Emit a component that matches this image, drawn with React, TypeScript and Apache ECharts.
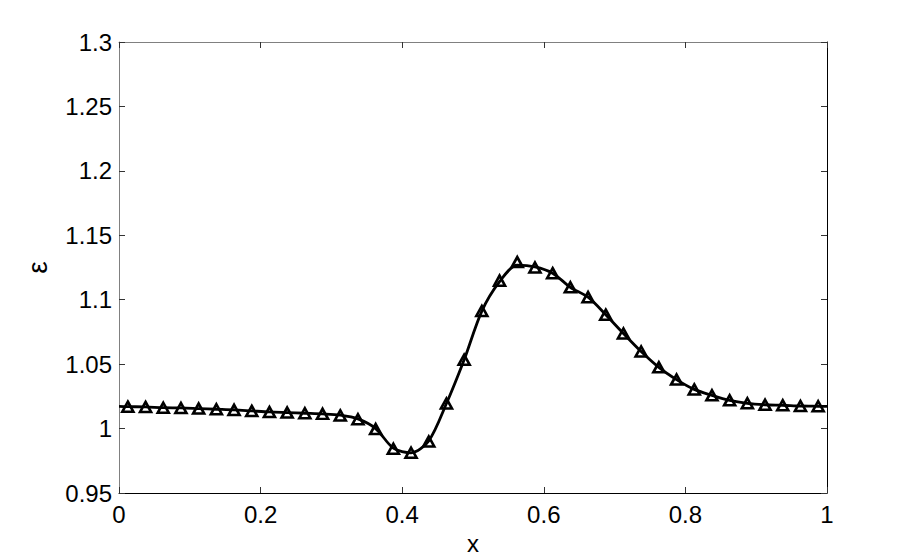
import React, { useEffect, useRef } from "react";
import * as echarts from "echarts";

const markerX = [
  0.0125, 0.0375, 0.0625, 0.0875, 0.1125, 0.1375, 0.1625, 0.1875, 0.2125, 0.2375,
  0.2625, 0.2875, 0.3125, 0.3375, 0.3625, 0.3875, 0.4125, 0.4375, 0.4625, 0.4875,
  0.5125, 0.5375, 0.5625, 0.5875, 0.6125, 0.6375, 0.6625, 0.6875, 0.7125, 0.7375,
  0.7625, 0.7875, 0.8125, 0.8375, 0.8625, 0.8875, 0.9125, 0.9375, 0.9625, 0.9875,
];
const markerY = [
  1.017, 1.0168, 1.0162, 1.016, 1.0155, 1.015, 1.0145, 1.0137, 1.0129, 1.0124,
  1.0119, 1.0114, 1.0102, 1.0072, 0.9996, 0.9843, 0.9812, 0.99, 1.0195, 1.0534,
  1.0912, 1.1148, 1.1292, 1.125, 1.1206, 1.1096, 1.102, 1.0884, 1.0738, 1.0598,
  1.0475, 1.038, 1.0304, 1.0258, 1.0219, 1.0196, 1.0185, 1.0181, 1.0175, 1.0173,
];
const lineX = [0, ...markerX, 1];
const lineY = [
  1.0172,
  1.017, 1.0168, 1.0162, 1.016, 1.0155, 1.015, 1.0145, 1.0137, 1.0129, 1.0124,
  1.0119, 1.0114, 1.0104, 1.0075, 1.0, 0.9848, 0.9812, 0.9905, 1.0195, 1.0534,
  1.0912, 1.114, 1.1268, 1.1255, 1.1206, 1.1096, 1.102, 1.0884, 1.0738, 1.0598,
  1.0475, 1.038, 1.0304, 1.0258, 1.0219, 1.0196, 1.0185, 1.0181, 1.0175, 1.0173,
  1.0172,
];
const xTicks = { min: 0, max: 1, interval: 0.2 };
const yTicks = { min: 0.95, max: 1.3, interval: 0.05 };

const FONT = "'Liberation Sans', Arial, Helvetica, sans-serif";

export default function App() {
  const ref = useRef<HTMLDivElement>(null);
  useEffect(() => {
    if (!ref.current) return;
    const chart = echarts.init(ref.current, undefined, { renderer: "svg" });
    const fmt = (v: number) => String(+v.toFixed(2));
    const baseTick = { show: true, inside: true, length: 6, lineStyle: { color: "#333", width: 1 } };
    chart.setOption({
      animation: false,
      backgroundColor: "#fff",
      grid: { left: 119, top: 42, width: 708, height: 456, containLabel: false },
      xAxis: [
        {
          type: "value", ...xTicks, position: "bottom",
          axisLine: { show: true, onZero: false, lineStyle: { color: "#000", width: 1 } },
          axisTick: baseTick,
          splitLine: { show: false },
          axisLabel: { formatter: fmt, fontSize: 24, color: "#000", fontFamily: FONT, margin: 9 },
          name: "x", nameLocation: "middle", nameGap: 38,
          nameTextStyle: { fontSize: 24, color: "#000", fontFamily: FONT },
        },
        {
          type: "value", ...xTicks, position: "top",
          axisLine: { show: true, onZero: false, lineStyle: { color: "#808080", width: 1 } },
          axisTick: baseTick,
          splitLine: { show: false },
          axisLabel: { show: false },
        },
      ],
      yAxis: [
        {
          type: "value", ...yTicks, position: "left",
          axisLine: { show: true, onZero: false, lineStyle: { color: "#808080", width: 1 } },
          axisTick: baseTick,
          splitLine: { show: false },
          axisLabel: { formatter: fmt, fontSize: 24, color: "#000", fontFamily: FONT, margin: 7 },
          name: "ε", nameLocation: "middle", nameGap: 68, nameRotate: 90,
          nameTextStyle: { fontSize: 28, color: "#000", fontFamily: FONT },
        },
        {
          type: "value", ...yTicks, position: "right",
          axisLine: { show: true, onZero: false, lineStyle: { color: "#000", width: 1 } },
          axisTick: baseTick,
          splitLine: { show: false },
          axisLabel: { show: false },
        },
      ],
      series: [
        {
          type: "line",
          xAxisIndex: 0, yAxisIndex: 0,
          data: lineX.map((x, i) => [x, lineY[i]]),
          smooth: 0.3,
          showSymbol: false,
          lineStyle: { color: "#000", width: 2.8 },
          z: 2,
        },
        {
          type: "scatter",
          xAxisIndex: 0, yAxisIndex: 0,
          data: markerX.map((x, i) => [x, markerY[i]]),
          symbol: "triangle",
          symbolSize: [11, 10],
          itemStyle: { color: "rgba(255,255,255,0)", borderColor: "#000", borderWidth: 2.6, opacity: 1 },
          z: 3,
        },
      ],
    });
    return () => chart.dispose();
  }, []);
  return (
    <div
      ref={ref}
      style={{ position: "absolute", left: 0, top: 0, width: 913, height: 560, background: "#fff" }}
    />
  );
}
